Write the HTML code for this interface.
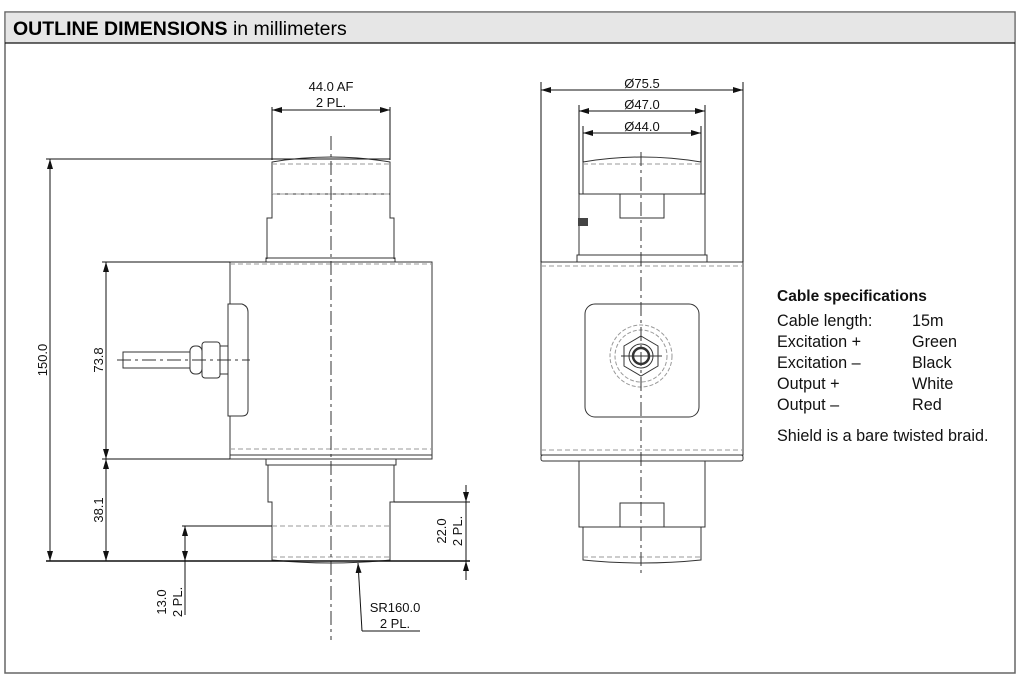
<!DOCTYPE html>
<html><head><meta charset="utf-8"><style>
body{margin:0;background:#fff;width:1019px;height:686px;overflow:hidden;font-family:"Liberation Sans",sans-serif}
</style></head><body>
<svg width="1019" height="686" viewBox="0 0 1019 686" xmlns="http://www.w3.org/2000/svg" font-family="Liberation Sans, sans-serif">
<rect x="5" y="12" width="1010" height="661" fill="#fff" stroke="#666" stroke-width="1.5"/>
<rect x="5.75" y="12.75" width="1008.5" height="30" fill="#e6e6e6"/>
<line x1="5" y1="43" x2="1015" y2="43" stroke="#111" stroke-width="1.2"/>
<text x="13" y="35" font-size="19.5" font-weight="bold" fill="#000">OUTLINE DIMENSIONS <tspan font-weight="normal">in millimeters</tspan></text>

<defs>
<marker id="a" viewBox="0 0 10 6" refX="10" refY="3" markerWidth="10" markerHeight="6" orient="auto-start-reverse" markerUnits="userSpaceOnUse"><path d="M0,0L10,3L0,6z" fill="#111"/></marker>
</defs>

<g stroke="#333" stroke-width="1" fill="none">
<path d="M272,162 Q331,152 390,162 L390,194 L272,194 Z"/>
<line x1="272" y1="164" x2="390" y2="164" stroke-dasharray="5,3" stroke="#999"/>
<line x1="272" y1="194" x2="390" y2="194" stroke-dasharray="5,3" stroke="#999"/>
<path d="M272,194 L272,218 L267,218 L267,259 M390,194 L390,218 L394,218 L394,259"/>
<rect x="266" y="258" width="129" height="4"/>
<rect x="230" y="262" width="202" height="193"/>
<line x1="230" y1="264" x2="432" y2="264" stroke-dasharray="5,3" stroke="#999"/>
<line x1="230" y1="449" x2="432" y2="449" stroke-dasharray="5,3" stroke="#999"/>
<rect x="230" y="455" width="202" height="4"/>
<path d="M228,304 L242,304 Q248,306 248,312 L248,410 Q248,416 242,416 L228,416 Z" fill="#fff"/>
<rect x="123" y="352" width="67" height="16" fill="#fff"/>
<rect x="190" y="346" width="12" height="28" rx="5" fill="#fff"/>
<rect x="202" y="342" width="18" height="36" rx="3" fill="#fff"/>
<rect x="220" y="346" width="8" height="28" fill="#fff"/>
<rect x="266" y="459" width="130" height="6"/>
<path d="M268,465 L268,502 L272,502 L272,560 Q331,566 390,560 L390,502 L394,502 L394,465"/>
<line x1="272" y1="526" x2="390" y2="526" stroke-dasharray="5,3" stroke="#999"/>
<line x1="272" y1="557" x2="390" y2="557" stroke-dasharray="5,3" stroke="#999"/>
<line x1="331" y1="136" x2="331" y2="640" stroke-dasharray="14,4,3,4"/>
<line x1="117" y1="360" x2="250" y2="360" stroke-dasharray="14,4,3,4"/>

<path d="M583,162 Q642,152 701,162 L701,194 L583,194 Z"/>
<line x1="583" y1="164" x2="701" y2="164" stroke-dasharray="5,3" stroke="#999"/>
<path d="M579,194 L705,194 L705,255 M579,194 L579,255"/>
<rect x="620" y="194" width="44" height="24"/>
<rect x="577" y="255" width="130" height="7"/>
<rect x="541" y="262" width="202" height="193"/>
<line x1="541" y1="266" x2="743" y2="266" stroke-dasharray="5,3" stroke="#999"/>
<line x1="541" y1="450" x2="743" y2="450" stroke-dasharray="5,3" stroke="#999"/>
<rect x="541" y="455" width="202" height="6" rx="2"/>
<rect x="585" y="304" width="114" height="113" rx="10"/>
<circle cx="641" cy="356" r="31" stroke="#999" stroke-dasharray="4,2"/>
<circle cx="641" cy="356" r="26" stroke="#999" stroke-dasharray="4,2"/>
<path d="M641,336 L658,346 L658,366 L641,376 L624,366 L624,346 Z"/>
<circle cx="641" cy="356" r="12"/>
<circle cx="641" cy="356" r="8" stroke-width="2.5"/>
<line x1="621" y1="356" x2="662" y2="356"/>
<path d="M579,461 L579,527 L583,527 L583,560 Q642,566 701,560 L701,527 L705,527 L705,461"/>
<rect x="620" y="503" width="44" height="24"/>
<line x1="579" y1="527" x2="705" y2="527"/>
<line x1="583" y1="557" x2="701" y2="557" stroke-dasharray="5,3" stroke="#999"/>
<line x1="641" y1="152" x2="641" y2="576" stroke-dasharray="14,4,3,4"/>
</g>
<rect x="578" y="218" width="10" height="8" fill="#444"/>

<g stroke="#111" stroke-width="1" fill="none">
<line x1="272" y1="107" x2="272" y2="160"/><line x1="390" y1="107" x2="390" y2="160"/>
<line x1="272" y1="110" x2="390" y2="110" marker-start="url(#a)" marker-end="url(#a)"/>
<line x1="46" y1="159" x2="390" y2="159"/>
<line x1="46" y1="561" x2="470" y2="561" stroke-width="1.4"/>
<line x1="50" y1="159" x2="50" y2="561" marker-start="url(#a)" marker-end="url(#a)"/>
<line x1="102" y1="262" x2="230" y2="262"/>
<line x1="102" y1="459" x2="230" y2="459"/>
<line x1="106" y1="262" x2="106" y2="459" marker-start="url(#a)" marker-end="url(#a)"/>
<line x1="106" y1="459" x2="106" y2="561" marker-start="url(#a)" marker-end="url(#a)"/>
<line x1="182" y1="526" x2="272" y2="526"/>
<line x1="185" y1="526" x2="185" y2="561" marker-start="url(#a)" marker-end="url(#a)"/>
<line x1="185" y1="561" x2="185" y2="615"/>
<line x1="394" y1="502" x2="470" y2="502"/>
<line x1="466" y1="485" x2="466" y2="502" marker-end="url(#a)"/>
<line x1="466" y1="502" x2="466" y2="561"/>
<line x1="466" y1="580" x2="466" y2="561" marker-end="url(#a)"/>
<path d="M362,631 L358,563" marker-end="url(#a)"/>
<line x1="362" y1="631" x2="420" y2="631"/>
<line x1="541" y1="82" x2="541" y2="262"/><line x1="743" y1="82" x2="743" y2="262"/>
<line x1="541" y1="90" x2="743" y2="90" marker-start="url(#a)" marker-end="url(#a)"/>
<line x1="579" y1="105" x2="579" y2="194"/><line x1="705" y1="105" x2="705" y2="194"/>
<line x1="579" y1="111" x2="705" y2="111" marker-start="url(#a)" marker-end="url(#a)"/>
<line x1="583" y1="126" x2="583" y2="162"/><line x1="701" y1="126" x2="701" y2="162"/>
<line x1="583" y1="133" x2="701" y2="133" marker-start="url(#a)" marker-end="url(#a)"/>
</g>

<g font-size="13" fill="#111">
<text x="331" y="91" text-anchor="middle">44.0 AF</text>
<text x="331" y="107" text-anchor="middle">2 PL.</text>
<text transform="translate(47,360) rotate(-90)" text-anchor="middle">150.0</text>
<text transform="translate(103,360) rotate(-90)" text-anchor="middle">73.8</text>
<text transform="translate(103,510) rotate(-90)" text-anchor="middle">38.1</text>
<text transform="translate(166,602) rotate(-90)" text-anchor="middle">13.0</text>
<text transform="translate(182,602) rotate(-90)" text-anchor="middle">2 PL.</text>
<text transform="translate(446,531) rotate(-90)" text-anchor="middle">22.0</text>
<text transform="translate(462,531) rotate(-90)" text-anchor="middle">2 PL.</text>
<text x="395" y="612" text-anchor="middle">SR160.0</text>
<text x="395" y="628" text-anchor="middle">2 PL.</text>
<text x="642" y="88" text-anchor="middle">Ø75.5</text>
<text x="642" y="109" text-anchor="middle">Ø47.0</text>
<text x="642" y="131" text-anchor="middle">Ø44.0</text>
</g>

<g font-size="16.2" fill="#111">
<text x="777" y="301" font-weight="bold" font-size="15.5">Cable specifications</text>
<text x="777" y="326">Cable length:</text><text x="912" y="326">15m</text>
<text x="777" y="347">Excitation +</text><text x="912" y="347">Green</text>
<text x="777" y="368">Excitation –</text><text x="912" y="368">Black</text>
<text x="777" y="389">Output +</text><text x="912" y="389">White</text>
<text x="777" y="410">Output –</text><text x="912" y="410">Red</text>
<text x="777" y="441">Shield is a bare twisted braid.</text>
</g>
</svg>
</body></html>
